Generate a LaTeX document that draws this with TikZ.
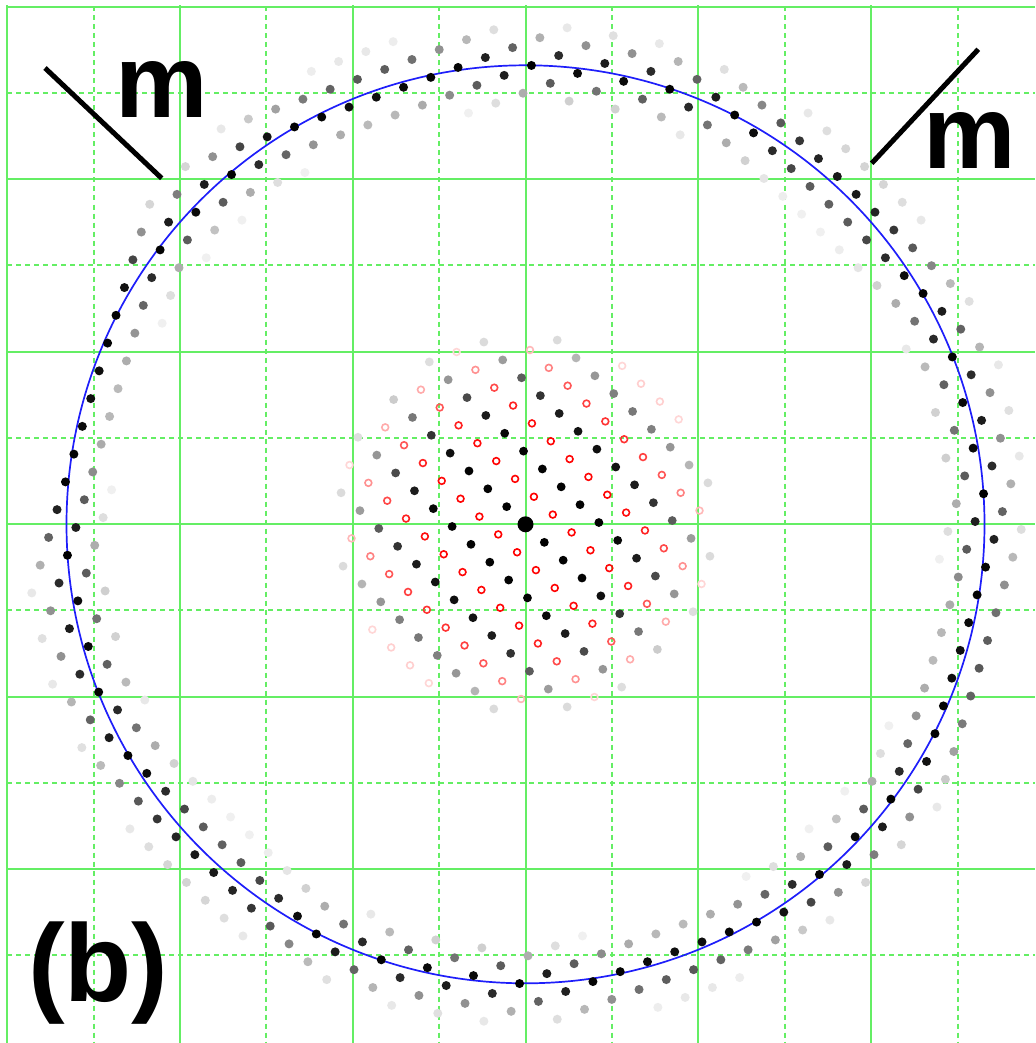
\documentclass[tikz,border=0pt]{standalone}
\usepackage{fontspec}
\setmainfont{Liberation Sans}
\definecolor{gridgreen}{RGB}{100,238,100}
\definecolor{ringblue}{RGB}{30,30,250}
\begin{document}
\begin{tikzpicture}[x=1pt,y=-1pt,
  gridsolid/.style={fill=gridgreen},
  griddash/.style={draw=gridgreen,line width=2.1pt,dash pattern=on 5pt off 4pt},
  mline/.style={draw=black,line width=5pt},
  biglabel/.style={inner sep=0pt,outer sep=0pt,text=black,font=\fontsize{110}{110}\selectfont\bfseries},
  mlabel/.style={inner sep=0pt,outer sep=0pt,text=black,font=\fontsize{104}{104}\selectfont\bfseries},
  laue/.style={draw=ringblue,line width=1.7pt}]
\useasboundingbox (0,0) rectangle (1035,1043);
\fill[white] (0,0) rectangle (1035,1043);
% grid
\foreach \gx in {93.6,266.4,439.2,612.0,784.8,957.6}{
  \draw[griddash] (\gx,6.5) -- (\gx,1043);
}
\foreach \gy in {92.9,265.4,437.9,610.4,782.9,955.4}{
  \draw[griddash] (7.2,\gy) -- (1035,\gy);
}
\foreach \gx in {7.2,180.0,352.8,525.6,698.4,871.2}{
  \fill[gridsolid] (\gx-1.05,5.5) rectangle (\gx+1.05,1043);
}
\foreach \gy in {6.6,179.1,351.6,524.1,696.6,869.1}{
  \fill[gridsolid] (6.15,\gy-1.05) rectangle (1035,\gy+1.05);
}
% Laue circle
\coordinate (ctr) at (525.5,524.3);
\draw[laue] (ctr) circle[radius=459];
\def\Lat{25.95}
\pgfmathsetmacro\ca{cos(43.45)}
\pgfmathsetmacro\sa{sin(43.45)}
% central zone
\foreach \m in {-8,...,8}{
  \foreach \n in {-12,...,12}{
    \pgfmathsetmacro\uu{\n-\m/2}
    \pgfmathsetmacro\rr{veclen(\uu,\m)}
    \ifdim\rr pt<7.3pt
      \pgfmathtruncatemacro\kk{100*exp(-(0.15446*\rr)^6)}
      \pgfmathsetmacro\px{525.5+\Lat*(\uu*\ca+\m*\sa)}
      \pgfmathsetmacro\py{524.5+\Lat*(\uu*\sa-\m*\ca)}
      \ifodd\m
        \draw[red!\kk,line width=1.6pt] (\px,\py) circle[radius=3.4];
      \else
        \fill[black!\kk] (\px,\py) circle[radius=4.4];
      \fi
    \fi
  }
}
\fill[black] (ctr) circle[radius=8];
% higher order zone ring
\foreach \m in {-19,...,19}{
  \foreach \n in {-20,...,20}{
    \pgfmathsetmacro\uu{\n-\m/2+0.5}
    \pgfmathsetmacro\rr{veclen(\uu,\m)}
    \ifdim\rr pt>16.0pt
    \ifdim\rr pt<19.4pt
      \pgfmathsetmacro\dd{(\Lat*\rr-459)/26}
      \pgfmathtruncatemacro\kk{100*exp(-(\dd*\dd))}
      \ifnum\kk>3
        \pgfmathsetmacro\px{525.5+\Lat*(\uu*\ca+\m*\sa)}
        \pgfmathsetmacro\py{524.5+\Lat*(\uu*\sa-\m*\ca)}
        \fill[black!\kk] (\px,\py) circle[radius=4.5];
      \fi
    \fi
    \fi
  }
}
% mirror lines
\coordinate (mla) at (45,68);
\coordinate (mlb) at (161.7,178.3);
\coordinate (mra) at (871.7,163.3);
\coordinate (mrb) at (978.3,49.3);
\draw[mline] (mla) -- (mlb);
\draw[mline] (mra) -- (mrb);
\node[mlabel,anchor=base west] (mleft) at (115,118) {m};
\node[mlabel,anchor=base west] (mright) at (923.5,169) {m};
\node[biglabel,anchor=base west] (blabel) at (28,1001.7) {(b)};
\end{tikzpicture}
\end{document}
